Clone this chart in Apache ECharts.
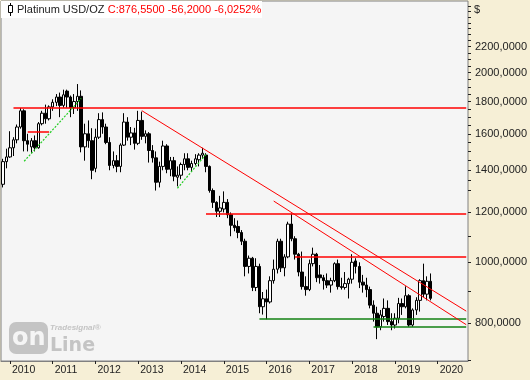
<!DOCTYPE html>
<html><head><meta charset="utf-8">
<script src="https://cdn.jsdelivr.net/npm/echarts@6/dist/echarts.min.js"></script>
<style>html,body{margin:0;padding:0;background:#f6efd6;}#c{width:530px;height:380px;}</style>
</head><body><div id="c"></div>
<script>
// ---- Data: monthly Platinum USD/OZ candles, Nov 2009 .. Nov 2019 ----
const firstMonth = [2009, 11];
const lastAxisMonth = [2020, 9];
const opens = [
  1330,1445,
  1470,1520,1565,1640,1740,1560,1525,1560,1520,1660,1725,1690,
  1765,1795,1830,1775,1870,1830,1760,1800,1835,1525,1600,1560,
  1410,1580,1685,1640,1550,1425,1450,1420,1535,1670,1580,1605,
  1545,1680,1585,1600,1505,1465,1340,1420,1530,1405,1450,1365,
  1375,1430,1460,1415,1435,1455,1480,1480,1420,1300,1245,1205,
  1215,1245,1190,1145,1140,1115,1080,985,1015,912,985,850,
  875,865,935,975,1080,980,1020,1150,1090,1030,965,915,
  905,995,1030,955,945,935,920,935,995,915,912,925,
  940,1005,985,930,920,905,855,830,790,820,845,805,
  795,815,860,850,885,795,840,870,935,890,932.75
];
const highs = [
  1460,1515,
  1615,1580,1655,1758,1750,1600,1575,1590,1670,1740,1780,1775,
  1815,1850,1860,1880,1880,1840,1850,1919,1875,1660,1680,1633,
  1630,1725,1730,1660,1580,1500,1480,1545,1725,1700,1640,1635,
  1740,1735,1620,1610,1535,1500,1445,1560,1540,1470,1470,1420,
  1440,1490,1490,1450,1485,1490,1520,1490,1425,1310,1250,1275,
  1296,1260,1200,1175,1165,1125,1090,1025,1020,1015,995,897,
  905,950,1010,1090,1090,1030,1160,1195,1100,1035,1040,950,
  1010,1055,1035,990,955,960,945,1000,1010,945,965,945,
  1030,1015,1000,955,945,915,870,850,840,876,870,830,
  830,878,876,916,890,845,880,940,995,950,960
];
const lows = [
  1315,1410,
  1465,1475,1545,1630,1500,1500,1490,1500,1515,1650,1660,1680,
  1740,1770,1700,1760,1760,1700,1720,1740,1495,1450,1520,1355,
  1390,1570,1600,1540,1400,1410,1390,1390,1530,1560,1535,1510,
  1535,1565,1545,1440,1440,1300,1315,1400,1385,1370,1345,1320,
  1355,1400,1400,1395,1425,1420,1460,1390,1290,1220,1180,1180,
  1200,1175,1100,1120,1092,1065,950,960,900,900,830,826,
  812,860,925,960,965,950,1015,1080,1010,950,905,885,
  900,985,930,925,905,910,895,930,905,905,905,876,
  925,960,910,895,880,845,805,755,780,805,795,780,
  785,800,825,845,790,790,825,835,880,870,870
];
const closes = [
  1445,1470,
  1520,1565,1640,1740,1560,1540,1560,1520,1660,1725,1690,1765,
  1795,1830,1775,1845,1830,1760,1800,1835,1525,1600,1560,1400,
  1580,1685,1640,1550,1425,1450,1420,1535,1670,1580,1605,1545,
  1680,1585,1600,1505,1465,1340,1420,1530,1405,1450,1370,1375,
  1430,1460,1415,1435,1460,1480,1490,1420,1300,1245,1205,1220,
  1245,1190,1145,1135,1115,1080,985,1015,912,985,850,875,
  865,935,975,1080,980,1020,1150,1090,1030,965,915,905,
  995,1030,945,945,935,920,935,995,915,912,925,940,
  1000,985,930,920,905,855,830,790,825,845,805,795,
  815,860,850,885,795,840,870,935,890,932.75,876.55
];
// Horizontal levels: [startMonth, endMonth, price]
const redLevels = [['2010-02','2020-09',1757],['2010-06','2010-12',1609],['2014-08','2020-09',1193],['2016-09','2020-09',1022]];
const greenLevels = [['2015-11','2020-09',812],['2018-07','2020-09',789]];
// Trend lines: [startMonth, startPrice, endMonth, endPrice]
const redTrends = [['2013-02',1741,'2020-09',836.5],['2016-03',1251,'2020-09',796]];
const greenTrends = [['2010-05',1447,'2011-09',1821],['2013-12',1311,'2014-08',1484]];
// Price axis labels and ticks
const priceLabels = [800,1000,1200,1400,1600,1800,2000,2200];
const priceTicks = [700,800,900,1000,1100,1200,1300,1350,1400,1450,1500,1550,1600,1650,1700,1750,1800,1850,1900,1950,2000,2050,2100,2150,2200,2250,2300,2350,2400,2450,2500,2550];
const yMin = 697, yMax = 2600;
const titleName = 'Platinum USD/OZ';
const titleQuote = 'C:876,5500 -56,2000 -6,0252%';

// ---- Build ----
const months = [];
{
  let y = firstMonth[0], m = firstMonth[1];
  while (y < lastAxisMonth[0] || (y === lastAxisMonth[0] && m <= lastAxisMonth[1])) {
    months.push(y + '-' + (m < 10 ? '0' + m : '' + m));
    m++; if (m > 12) { m = 1; y++; }
  }
}
const candles = opens.map((o, i) => [o, closes[i], lows[i], highs[i]]);
const isJan = (idx, val) => months[idx].slice(5) === '01';

const ml = [];
redLevels.forEach(l => ml.push([{coord:[l[0], l[2]], lineStyle:{color:'#ff0000', width:1.5, type:'solid'}}, {coord:[l[1], l[2]]}]));
greenLevels.forEach(l => ml.push([{coord:[l[0], l[2]], lineStyle:{color:'#118011', width:1.5, type:'solid'}}, {coord:[l[1], l[2]]}]));
redTrends.forEach(t => ml.push([{coord:[t[0], t[1]], lineStyle:{color:'#ff0000', width:1, type:'solid'}}, {coord:[t[2], t[3]]}]));
greenTrends.forEach(t => ml.push([{coord:[t[0], t[1]], lineStyle:{color:'#22cc22', width:1.2, type:[2,1.5]}}, {coord:[t[2], t[3]]}]));

const chart = echarts.init(document.getElementById('c'), null, {renderer:'canvas'});
const FONT = 'Liberation Sans, Arial, sans-serif';
chart.setOption({
  animation: false,
  backgroundColor: '#f6efd6',
  grid: {left: 1, top: 1, width: 468, height: 360, show: true, backgroundColor: '#f5f5f5', borderColor: '#808080', borderWidth: 1},
  xAxis: {
    type: 'category', data: months, boundaryGap: true,
    axisLine: {show: true, lineStyle: {color: '#808080'}},
    axisTick: {show: true, alignWithLabel: true, interval: isJan, length: 3, lineStyle: {color: '#222'}},
    axisLabel: {interval: isJan, formatter: v => v.slice(0, 4), align: 'left', margin: 4, fontSize: 10.5, color: '#222', fontFamily: FONT, padding: [0,0,0,2]},
    splitLine: {show: false}
  },
  yAxis: [
    {type: 'log', min: yMin, max: yMax, position: 'right', axisLine: {show: false}, axisTick: {show: false}, axisLabel: {show: false}, splitLine: {show: false}},
    {type: 'value', min: Math.log10(yMin), max: Math.log10(yMax), position: 'right',
     axisLine: {show: false},
     axisTick: {show: true, length: 3, customValues: priceTicks.map(v => Math.log10(v)), lineStyle: {color: '#222'}},
     axisLabel: {customValues: priceLabels.map(v => Math.log10(v)), formatter: v => Math.round(Math.pow(10, v)) + ',0000', margin: 7, fontSize: 11, color: '#222', fontFamily: FONT},
     splitLine: {show: false}}
  ],
  series: [{
    type: 'candlestick', yAxisIndex: 0, data: candles, barWidth: 3,
    itemStyle: {color: '#ffffff', color0: '#000000', borderColor: '#000000', borderColor0: '#000000', borderWidth: 1},
    markLine: {silent: true, symbol: ['none', 'none'], label: {show: false}, animation: false, data: ml}
  }],
  graphic: [
    {type: 'rect', shape: {x: 1, y: 1, width: 261, height: 17}, style: {fill: '#ffffff'}, z: 10},
    {type: 'line', shape: {x1: 10.5, y1: 3, x2: 10.5, y2: 16}, style: {stroke: '#000', lineWidth: 1}, z: 11},
    {type: 'rect', shape: {x: 8.5, y: 5.5, width: 4, height: 7}, style: {fill: '#fff', stroke: '#000', lineWidth: 1}, z: 12},
    {type: 'text', x: 17, y: 10, z: 12, style: {
      text: '{a|' + titleName + '} {b|' + titleQuote + '}', verticalAlign: 'middle',
      rich: {a: {fill: '#222', fontSize: 11, fontFamily: FONT}, b: {fill: '#ff0000', fontSize: 11, fontFamily: FONT}}
    }},
    {type: 'text', x: 474, y: 10, z: 12, style: {text: '$', fill: '#222', fontSize: 11, fontFamily: FONT, verticalAlign: 'middle'}},
    {type: 'rect', shape: {x: 9, y: 322, width: 39, height: 32, r: 7}, style: {fill: '#c4c4c4'}, z: 5},
    {type: 'text', x: 12, y: 339, z: 6, style: {text: 'on', fill: '#f5f5f5', fontSize: 24, fontWeight: 'bold', fontFamily: 'DejaVu Sans', verticalAlign: 'middle'}},
    {type: 'text', x: 50, y: 346, z: 6, style: {text: 'Line', fill: '#c4c4c4', fontSize: 19, fontWeight: 'bold', fontFamily: 'DejaVu Sans', verticalAlign: 'middle'}},
    {type: 'text', x: 50, y: 328, z: 6, style: {text: 'Tradesignal®', fill: '#c4c4c4', fontSize: 8, fontWeight: 'bold', fontStyle: 'italic', fontFamily: FONT, verticalAlign: 'middle'}}
  ]
});
</script></body></html>
